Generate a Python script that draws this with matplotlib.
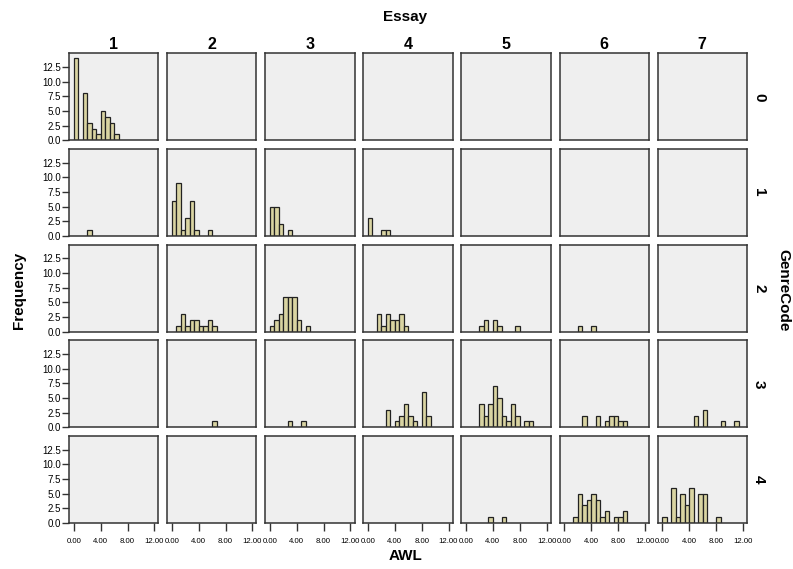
import matplotlib
matplotlib.use('Agg')
import matplotlib.pyplot as plt
import numpy as np

# Histogram counts per AWL bin
# bins start at 0.00, each bin_width wide
bin_width = 0.67
essays = [1, 2, 3, 4, 5, 6, 7]
genres = [0, 1, 2, 3, 4]

# one dict per GenreCode: essay -> counts per bin (empty panels left out)
counts_g0 = {1: [14, 0, 8, 3, 2, 1, 5, 4, 3, 1]}
counts_g1 = {1: [0, 0, 0, 1],
             2: [6, 9, 1, 3, 6, 1, 0, 0, 1],
             3: [5, 5, 2, 0, 1],
             4: [3, 0, 0, 1, 1]}
counts_g2 = {2: [0, 1, 3, 1, 2, 2, 1, 1, 2, 1],
             3: [1, 2, 3, 6, 6, 6, 2, 0, 1],
             4: [0, 0, 3, 1, 3, 2, 2, 3, 1],
             5: [0, 0, 0, 1, 2, 0, 2, 1, 0, 0, 0, 1],
             6: [0, 0, 0, 1, 0, 0, 1]}
counts_g3 = {2: [0, 0, 0, 0, 0, 0, 0, 0, 0, 1],
             3: [0, 0, 0, 0, 1, 0, 0, 1],
             4: [0, 0, 0, 0, 3, 0, 1, 2, 4, 2, 1, 0, 6, 2],
             5: [0, 0, 0, 4, 2, 4, 7, 5, 2, 1, 4, 2, 0, 1, 1],
             6: [0, 0, 0, 0, 2, 0, 0, 2, 0, 1, 2, 2, 1, 1],
             7: [0, 0, 0, 0, 0, 0, 0, 2, 0, 3, 0, 0, 0, 1, 0, 0, 1]}
counts_g4 = {5: [0, 0, 0, 0, 0, 1, 0, 0, 1],
             6: [0, 0, 1, 5, 3, 4, 5, 4, 1, 2, 0, 1, 1, 2],
             7: [1, 0, 6, 1, 5, 3, 6, 0, 5, 5, 0, 0, 1]}
all_counts = [counts_g0, counts_g1, counts_g2, counts_g3, counts_g4]

x_ticks = [0, 4, 8, 12]
x_labels = ['0.00', '4.00', '8.00', '12.00']
y_ticks = [0, 2.5, 5, 7.5, 10, 12.5]

plt.rcParams['font.family'] = ['Liberation Sans', 'DejaVu Sans']

fig, axes = plt.subplots(len(genres), len(essays), figsize=(7.93, 5.69), dpi=100,
                         sharex=True, sharey=True)
fig.subplots_adjust(left=0.0874, right=0.9416, top=0.9063, bottom=0.0808,
                    wspace=0.1, hspace=0.1)

for r, g in enumerate(genres):
    for c, e in enumerate(essays):
        ax = axes[r, c]
        ax.set_facecolor('#EFEFEF')
        counts = np.array(all_counts[r].get(e, []), dtype=float)
        if len(counts):
            left = np.arange(len(counts)) * bin_width
            keep = counts > 0
            ax.bar(left[keep], counts[keep], width=bin_width, align='edge',
                   color='#D9D4A2', edgecolor='#222222', linewidth=0.9, zorder=2)
        for s in ax.spines.values():
            s.set_color('#333333')
            s.set_linewidth(1.1)
        ax.set_xlim(-0.67, 12.6)
        ax.set_ylim(0, 14.85)
        ax.set_yticks(y_ticks)
        ax.tick_params(axis='both', length=5, width=1, color='#333333', pad=1)
        ax.tick_params(axis='y', labelsize=7)
        ax.tick_params(axis='x', pad=5, length=6)
        ax.yaxis.set_major_formatter(plt.FormatStrFormatter('%.1f'))
        if c != 0:
            ax.tick_params(axis='y', left=False, labelleft=False)
        if r != len(genres) - 1:
            ax.tick_params(axis='x', bottom=False, labelbottom=False)
        if r == 0:
            ax.set_title(str(e), fontsize=11.5, fontweight='bold', pad=3)
        if c == len(essays) - 1:
            ax.text(1.14, 0.5, str(g), transform=ax.transAxes, rotation=-90,
                    fontsize=11, fontweight='bold', ha='center', va='center')

# bottom row x tick labels, kept small so neighbours do not collide
for ax in axes[-1]:
    ax.set_xticks(x_ticks, labels=x_labels, fontsize=5.6)

fig.text(0.511, 0.97, 'Essay', ha='center', va='center', fontsize=11, fontweight='bold')
fig.text(0.511, 0.022, 'AWL', ha='center', va='center', fontsize=11, fontweight='bold')
fig.text(0.024, 0.49, 'Frequency', ha='center', va='center', rotation=90,
         fontsize=11, fontweight='bold')
fig.text(0.988, 0.49, 'GenreCode', ha='center', va='center', rotation=-90,
         fontsize=11, fontweight='bold')

fig.savefig('out.png', dpi=100, facecolor='white')
